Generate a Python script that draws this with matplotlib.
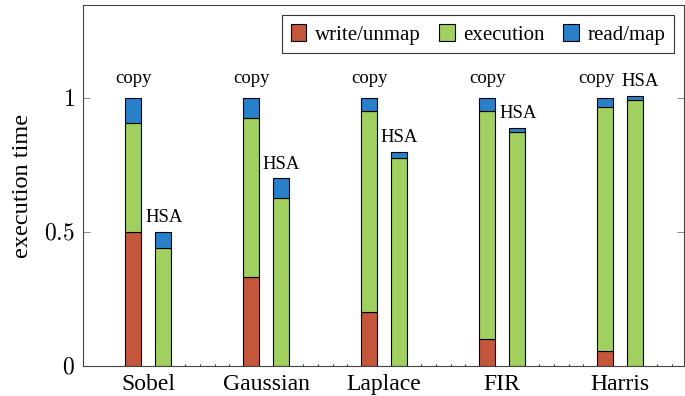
import numpy as np
import matplotlib.pyplot as plt
from matplotlib.ticker import FixedLocator

plt.rcParams['font.family'] = ['Liberation Serif', 'DejaVu Serif']
plt.rcParams['mathtext.fontset'] = 'cm'

# normalised execution time per benchmark, copy vs HSA
benchmarks = ['Sobel', 'Gaussian', 'Laplace', 'FIR', 'Harris']
copy_write = [0.50, 0.332, 0.20, 0.10, 0.055]
copy_exec = [0.407, 0.593, 0.75, 0.85, 0.911]
copy_read = [0.093, 0.075, 0.05, 0.05, 0.034]
hsa_write = [0.0, 0.0, 0.0, 0.0, 0.0]
hsa_exec = [0.44, 0.627, 0.776, 0.873, 0.993]
hsa_read = [0.06, 0.073, 0.024, 0.015, 0.014]

segment_names = ['write/unmap', 'execution', 'read/map']
segment_colors = ['#c4573b', '#a1cf60', '#2880c8']

fig = plt.figure(figsize=(6.85, 3.96), dpi=100)
ax = fig.add_axes([83 / 685, 1 - 366 / 396, (684 - 83) / 685, 361 / 396])

x = np.arange(len(benchmarks))
shift = 0.127
width = 0.136

def stacked(pos, parts):
    bottom = np.zeros(len(pos))
    for vals, name, col in zip(parts, segment_names, segment_colors):
        ax.bar(pos, vals, width, bottom=bottom, color=col, edgecolor='black',
               linewidth=0.8, label=name)
        bottom = bottom + np.array(vals)
    return bottom

copy_tot = stacked(x - shift, [copy_write, copy_exec, copy_read])
hsa_tot = stacked(x + shift, [hsa_write, hsa_exec, hsa_read])

# nudge the Harris labels apart so they don't collide
copy_dx = [0, 0, 0, 0, -6]
hsa_dx = [1, 0, 0, 1, 4]
for xi, t, dx in zip(x - shift, copy_tot, copy_dx):
    ax.annotate('copy', (xi, t), xytext=(dx, 11), textcoords='offset points',
                ha='center', va='baseline', fontsize=13.5)
for xi, t, dx in zip(x + shift, hsa_tot, hsa_dx):
    ax.annotate('HSA', (xi, t), xytext=(dx, 7), textcoords='offset points',
                ha='center', va='baseline', fontsize=13.5)

ax.set_xlim((83 - 148) / 118, (684 - 148) / 118)
ax.set_ylim(0, 361 / 268)

ax.set_xticks(x)
ax.set_xticklabels(benchmarks, fontsize=17)
ax.tick_params(axis='x', which='major', length=0, pad=6)
minor = [g + o for g in x for o in (0.31, 0.44, 0.57, 0.69)]
ax.xaxis.set_minor_locator(FixedLocator(minor))
ax.tick_params(axis='x', which='minor', direction='in', length=1.5, width=0.8, color='#333333')

ax.set_yticks([0, 0.5, 1])
ax.set_yticklabels(['$0$', '$0.5$', '$1$'], fontsize=17)
ax.tick_params(axis='y', direction='in', length=5, width=0.6, color='#777777',
               right=True, pad=6)
ax.set_ylabel('execution time', fontsize=17.5, labelpad=8)

for s in ax.spines.values():
    s.set_color('#444444')
    s.set_linewidth(0.8)

handles, labels = ax.get_legend_handles_labels()
leg = ax.legend(handles[:3], labels[:3], loc='upper right', ncol=3, fontsize=15,
                frameon=True, fancybox=False, edgecolor='black',
                handlelength=0.75, handleheight=0.9, handletextpad=0.4,
                columnspacing=0.9, borderpad=0.4, borderaxespad=0.5)
leg.get_frame().set_linewidth(0.8)

fig.savefig('out.png', dpi=100)
